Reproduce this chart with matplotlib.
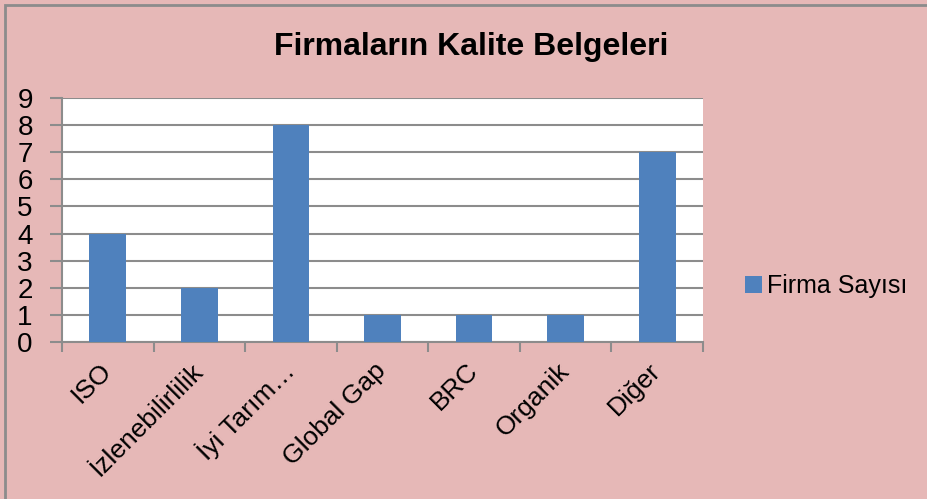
import matplotlib.pyplot as plt
from matplotlib.patches import Rectangle

categories = ["ISO", "İzlenebilirlilik", "İyi Tarım…", "Global Gap", "BRC", "Organik", "Diğer"]
firma_sayisi = [4, 2, 8, 1, 1, 1, 7]
y_ticks = list(range(0, 10))

W, H = 928, 499
bg = "#E6B8B7"
bar_color = "#4F81BD"
grid_color = "#8C8C8C"

plt.rcParams['font.family'] = ['Liberation Sans', 'DejaVu Sans']

fig = plt.figure(figsize=(W / 100, H / 100), dpi=100)
fig.patch.set_facecolor(bg)
# outer chart border (only top and left edges fall inside the picture)
fig.add_artist(Rectangle((5 / W, -0.1), 1.2, 1.1 - 5 / H, transform=fig.transFigure,
                         fill=False, edgecolor="#8C8C8C", linewidth=2))

left, right, top, bottom = 62, 703, 98, 342
ax = fig.add_axes([left / W, 1 - bottom / H, (right - left) / W, (bottom - top) / H])
ax.set_facecolor("white")

x = list(range(len(categories)))
bars = ax.bar(x, firma_sayisi, width=0.4, color=bar_color, zorder=3, label="Firma Sayısı")

ax.set_xlim(-0.5, len(categories) - 0.5)
ax.set_ylim(0, 9)
ax.set_yticks(y_ticks)
ax.yaxis.grid(True, color=grid_color, linewidth=1.5, zorder=0)
ax.tick_params(axis="y", length=9, width=1.5, color=grid_color, labelsize=20, pad=12)

# category labels at centres, tick marks at boundaries
ax.set_xticks(x)
ax.set_xticklabels(categories, rotation=45, ha="right", va="center", rotation_mode="anchor", fontsize=19)
ax.tick_params(axis="x", length=0, pad=18)
ax.set_xticks([i - 0.5 for i in range(len(categories) + 1)], minor=True)
ax.tick_params(axis="x", which="minor", length=7, width=1.5, color=grid_color)

for s in ["top", "right"]:
    ax.spines[s].set_visible(False)
for s in ["left", "bottom"]:
    ax.spines[s].set_color(grid_color)
    ax.spines[s].set_linewidth(1.5)

fig.text(471 / W, 1 - 47 / H, "Firmaların Kalite Belgeleri", ha="center", va="center",
         fontsize=23, fontweight="bold")

fig.legend(handles=[bars], labels=["Firma Sayısı"], loc="center left",
           bbox_to_anchor=(722 / W, 1 - 286 / H), frameon=False, fontsize=18,
           handlelength=0.7, handleheight=0.7, handletextpad=0.2)

fig.savefig("out.png", dpi=100, facecolor=bg)
